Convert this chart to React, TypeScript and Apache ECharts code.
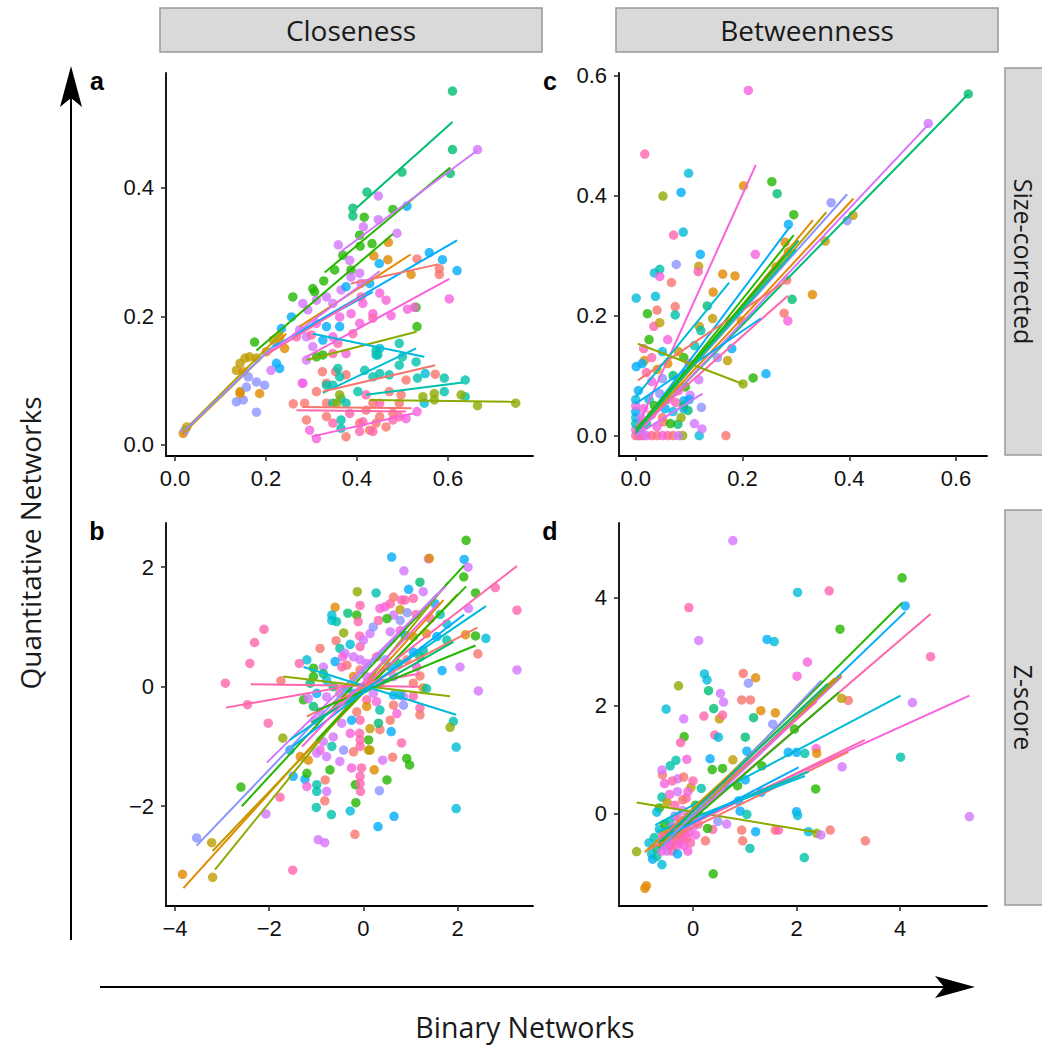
import React, { useEffect, useRef } from "react";
import * as echarts from "echarts";

// Group colours (one hue per network)
const PALETTE = [
  "#F8766D", "#E18A00", "#BE9C00", "#8CAB00", "#24B700", "#00BE70", "#00C1AB",
  "#00BBDA", "#00ACFC", "#8B93FF", "#D575FE", "#F962DD", "#FF65AC",
];

// Tick values
const TICKS_SIZE_CLOSE_X = [0, 0.2, 0.4, 0.6];
const TICKS_SIZE_CLOSE_Y = [0, 0.2, 0.4];
const TICKS_SIZE_BETW_X = [0, 0.2, 0.4, 0.6];
const TICKS_SIZE_BETW_Y = [0, 0.2, 0.4, 0.6];
const TICKS_Z_CLOSE_X = [-4, -2, 0, 2];
const TICKS_Z_CLOSE_Y = [-2, 0, 2];
const TICKS_Z_BETW_X = [0, 2, 4];
const TICKS_Z_BETW_Y = [0, 2, 4];

// Panel a: closeness, size-corrected  [binary, quantitative, group]
const CLOSE_SIZE_POINTS = [
  [0.61, 0.55, 5], [0.61, 0.459, 5], [0.605, 0.422, 5], [0.499, 0.424, 5], [0.422, 0.393, 5],
  [0.391, 0.368, 5], [0.391, 0.356, 5], [0.447, 0.387, 10], [0.665, 0.459, 10], [0.51, 0.371, 8],
  [0.479, 0.366, 4], [0.416, 0.354, 4], [0.447, 0.35, 10], [0.414, 0.339, 10], [0.488, 0.329, 10],
  [0.406, 0.326, 4], [0.433, 0.313, 4], [0.407, 0.309, 4], [0.359, 0.311, 10], [0.469, 0.315, 1],
  [0.559, 0.299, 8], [0.588, 0.288, 8], [0.62, 0.271, 8], [0.468, 0.288, 1], [0.532, 0.289, 0],
  [0.581, 0.274, 0], [0.581, 0.265, 0], [0.519, 0.265, 1], [0.437, 0.294, 1], [0.449, 0.282, 8],
  [0.603, 0.227, 11], [0.53, 0.214, 4], [0.532, 0.184, 4],
  [0.259, 0.23, 4], [0.303, 0.243, 4], [0.307, 0.238, 4], [0.327, 0.255, 4], [0.175, 0.16, 4],
  [0.369, 0.295, 4], [0.387, 0.272, 4], [0.351, 0.272, 4],
  [0.281, 0.22, 10], [0.292, 0.21, 10], [0.311, 0.225, 10], [0.333, 0.23, 10], [0.347, 0.22, 10],
  [0.365, 0.241, 10], [0.384, 0.287, 10], [0.387, 0.261, 10], [0.406, 0.267, 10], [0.409, 0.251, 10],
  [0.274, 0.179, 10], [0.289, 0.168, 10], [0.303, 0.153, 10], [0.311, 0.189, 11], [0.362, 0.199, 11],
  [0.387, 0.204, 11], [0.413, 0.22, 11], [0.435, 0.204, 11], [0.45, 0.236, 11], [0.464, 0.225, 11],
  [0.475, 0.201, 11], [0.511, 0.211, 11], [0.526, 0.214, 11], [0.406, 0.189, 11], [0.347, 0.168, 11],
  [0.376, 0.142, 11], [0.281, 0.096, 10], [0.289, 0.132, 10], [0.211, 0.116, 10], [0.358, 0.158, 12],
  [0.391, 0.173, 12], [0.267, 0.168, 12], [0.3, 0.171, 12], [0.347, 0.142, 12], [0.409, 0.23, 12],
  [0.435, 0.197, 12],
  [0.234, 0.181, 8], [0.256, 0.199, 8], [0.333, 0.184, 8], [0.362, 0.184, 8], [0.325, 0.163, 8],
  [0.23, 0.119, 8], [0.223, 0.127, 8], [0.376, 0.246, 8], [0.428, 0.251, 8],
  [0.45, 0.15, 7], [0.442, 0.14, 7],
  [0.154, 0.135, 2], [0.164, 0.137, 2], [0.143, 0.127, 2], [0.135, 0.116, 2], [0.179, 0.135, 2],
  [0.216, 0.163, 2], [0.23, 0.168, 2], [0.241, 0.15, 1], [0.186, 0.08, 1], [0.143, 0.083, 2],
  [0.15, 0.114, 1], [0.201, 0.145, 1], [0.018, 0.018, 1], [0.022, 0.023, 9], [0.026, 0.028, 2],
  [0.135, 0.067, 9], [0.15, 0.07, 9], [0.179, 0.051, 9], [0.157, 0.09, 9], [0.179, 0.098, 9],
  [0.197, 0.093, 9], [0.161, 0.106, 9],
  [0.324, 0.114, 0], [0.353, 0.114, 0], [0.376, 0.109, 0], [0.333, 0.096, 0], [0.311, 0.083, 0],
  [0.333, 0.065, 0], [0.333, 0.044, 0], [0.26, 0.064, 0], [0.285, 0.065, 0], [0.289, 0.039, 0],
  [0.376, 0.013, 0], [0.42, 0.054, 0], [0.435, 0.065, 0], [0.45, 0.044, 0], [0.464, 0.028, 0],
  [0.479, 0.049, 0], [0.493, 0.065, 0], [0.497, 0.078, 0], [0.508, 0.101, 0], [0.572, 0.11, 0],
  [0.406, 0.034, 0], [0.428, 0.023, 0], [0.471, 0.083, 0], [0.442, 0.034, 0],
  [0.347, 0.034, 12], [0.384, 0.049, 12], [0.413, 0.036, 12], [0.435, 0.021, 12], [0.406, 0.021, 12],
  [0.479, 0.039, 12], [0.45, 0.065, 12], [0.42, 0.078, 12], [0.493, 0.044, 12],
  [0.28, 0.096, 11], [0.296, 0.023, 11], [0.311, 0.01, 11], [0.532, 0.052, 11], [0.508, 0.041, 11],
  [0.333, 0.093, 6], [0.347, 0.093, 6], [0.358, 0.119, 6], [0.362, 0.106, 6], [0.365, 0.072, 6],
  [0.376, 0.065, 6], [0.365, 0.039, 6], [0.365, 0.026, 6], [0.402, 0.083, 6], [0.417, 0.116, 6],
  [0.435, 0.106, 6], [0.45, 0.111, 6], [0.471, 0.109, 6], [0.493, 0.124, 6], [0.5, 0.137, 6],
  [0.53, 0.129, 6], [0.533, 0.104, 6], [0.55, 0.111, 7], [0.592, 0.104, 6], [0.592, 0.083, 6],
  [0.638, 0.101, 6], [0.638, 0.075, 6], [0.548, 0.065, 7], [0.442, 0.147, 6], [0.446, 0.14, 6],
  [0.493, 0.158, 6], [0.347, 0.065, 6],
  [0.545, 0.075, 3], [0.57, 0.08, 3], [0.57, 0.07, 3], [0.629, 0.078, 3], [0.665, 0.061, 3],
  [0.749, 0.065, 3], [0.362, 0.078, 3], [0.355, 0.065, 3],
  [0.311, 0.137, 4], [0.325, 0.14, 4], [0.143, 0.08, 1],
];

// Fitted lines, panel a  [x1, y1, x2, y2, group]
const CLOSE_SIZE_FITS = [
  [0.4, 0.369, 0.61, 0.502, 5],
  [0.329, 0.268, 0.605, 0.431, 4],
  [0.362, 0.299, 0.665, 0.458, 10],
  [0.179, 0.147, 0.479, 0.328, 4],
  [0.281, 0.179, 0.62, 0.318, 8],
  [0.274, 0.184, 0.518, 0.296, 1],
  [0.387, 0.251, 0.58, 0.281, 0],
  [0.289, 0.137, 0.603, 0.258, 11],
  [0.289, 0.132, 0.531, 0.176, 3],
  [0.303, 0.173, 0.548, 0.137, 7],
  [0.325, 0.081, 0.53, 0.15, 7],
  [0.325, 0.083, 0.572, 0.124, 0],
  [0.42, 0.078, 0.632, 0.097, 6],
  [0.428, 0.07, 0.749, 0.067, 3],
  [0.267, 0.054, 0.508, 0.052, 12],
  [0.28, 0.059, 0.52, 0.057, 0],
  [0.3, 0.013, 0.523, 0.049, 11],
  [0.018, 0.021, 0.238, 0.176, 2],
  [0.015, 0.016, 0.245, 0.173, 1],
  [0.022, 0.023, 0.223, 0.158, 9],
  [0.216, 0.153, 0.435, 0.238, 8],
  [0.21, 0.145, 0.45, 0.27, 10],
  [0.2, 0.14, 0.42, 0.235, 12],
];

// Panel c: betweenness, size-corrected
const BETW_SIZE_POINTS = [
  [0.623, 0.569, 5], [0.548, 0.52, 10], [0.211, 0.575, 11], [0.017, 0.469, 12], [0.099, 0.437, 7],
  [0.085, 0.405, 8], [0.051, 0.399, 3], [0.202, 0.416, 1], [0.255, 0.423, 4], [0.265, 0.403, 5],
  [0.366, 0.388, 9], [0.407, 0.367, 2], [0.396, 0.358, 9], [0.296, 0.368, 4], [0.286, 0.352, 8],
  [0.071, 0.334, 12], [0.089, 0.339, 7], [0.28, 0.322, 1], [0.286, 0.306, 2], [0.224, 0.302, 11],
  [0.355, 0.324, 2], [0.076, 0.285, 9], [0.121, 0.302, 8], [0.118, 0.282, 2], [0.117, 0.273, 12],
  [0.035, 0.271, 7], [0.045, 0.277, 6], [0.045, 0.265, 11], [0.067, 0.255, 0], [0.163, 0.269, 1],
  [0.186, 0.266, 1], [0.263, 0.281, 2], [0.145, 0.239, 1], [0.283, 0.259, 0], [0.293, 0.227, 5],
  [0.331, 0.235, 1], [0.278, 0.204, 0], [0.285, 0.191, 11], [0.001, 0.229, 7], [0.037, 0.232, 7],
  [0.04, 0.209, 0], [0.074, 0.215, 0], [0.022, 0.203, 4], [0.134, 0.216, 5], [0.074, 0.201, 6],
  [0.144, 0.195, 2], [0.198, 0.191, 1], [0.119, 0.182, 2], [0.122, 0.175, 6], [0.034, 0.182, 12],
  [0.045, 0.188, 2], [0.18, 0.145, 8], [0.153, 0.13, 9], [0.172, 0.125, 2], [0.201, 0.086, 3],
  [0.22, 0.096, 4], [0.244, 0.103, 8], [0.016, 0.125, 1], [0.001, 0.115, 8], [0.169, 0.0, 0],
  [0.119, 0.0, 7], [0.088, 0.0, 3], [0.124, 0.011, 10], [0.123, 0.047, 9], [0.098, 0.042, 5],
  [0.09, 0.045, 8], [0.09, 0.058, 8], [0.102, 0.067, 10], [0.093, 0.081, 4], [0.118, 0.093, 10],
  [0.079, 0.019, 5], [0.052, 0.023, 0],
  [0.0, 0.0, 12], [0.005, 0.0, 0], [0.01, 0.0, 11], [0.015, 0.0, 12], [0.02, 0.0, 10],
  [0.03, 0.0, 12], [0.04, 0.0, 0], [0.05, 0.0, 11], [0.06, 0.0, 12], [0.07, 0.0, 0],
  [0.08, 0.0, 10], [0.0, 0.01, 11], [0.0, 0.02, 6], [0.0, 0.03, 7], [0.0, 0.04, 8],
  [0.0, 0.05, 11], [0.0, 0.06, 7], [0.005, 0.075, 8], [0.01, 0.015, 12], [0.01, 0.03, 10],
  [0.015, 0.045, 11], [0.02, 0.02, 5], [0.025, 0.06, 7], [0.03, 0.035, 12], [0.035, 0.05, 4],
  [0.04, 0.015, 11], [0.045, 0.07, 9], [0.05, 0.03, 0], [0.055, 0.045, 8], [0.06, 0.06, 10],
  [0.065, 0.02, 4], [0.07, 0.04, 7], [0.075, 0.055, 12], [0.08, 0.075, 11], [0.085, 0.03, 3],
  [0.09, 0.05, 5], [0.1, 0.06, 8], [0.11, 0.02, 10], [0.03, 0.09, 11], [0.02, 0.105, 12],
  [0.012, 0.12, 8], [0.04, 0.11, 2], [0.05, 0.095, 9], [0.06, 0.12, 1], [0.07, 0.1, 5],
  [0.09, 0.13, 4], [0.1, 0.12, 12], [0.03, 0.13, 12], [0.05, 0.14, 7], [0.08, 0.14, 2],
  [0.11, 0.15, 6], [0.015, 0.145, 12], [0.06, 0.16, 11], [0.025, 0.16, 4],
];

const BETW_SIZE_FITS = [
  [0.0, 0.008, 0.225, 0.451, 11],
  [0.0, 0.003, 0.623, 0.569, 5],
  [0.0, 0.0, 0.548, 0.518, 10],
  [0.0, 0.008, 0.396, 0.402, 9],
  [0.0, 0.005, 0.408, 0.395, 1],
  [0.0, 0.005, 0.357, 0.372, 2],
  [0.0, 0.005, 0.332, 0.359, 1],
  [0.0, 0.005, 0.289, 0.348, 8],
  [0.0, 0.005, 0.296, 0.334, 4],
  [0.004, 0.092, 0.284, 0.259, 0],
  [0.0, 0.008, 0.285, 0.233, 12],
  [0.0, 0.064, 0.175, 0.255, 7],
  [0.0, 0.053, 0.234, 0.195, 8],
  [0.004, 0.153, 0.201, 0.086, 3],
  [0.0, 0.0, 0.125, 0.07, 10],
  [0.0, 0.005, 0.305, 0.325, 5],
  [0.0, 0.01, 0.3, 0.31, 6],
  [0.0, 0.01, 0.28, 0.3, 4],
];

// Panel b: closeness, z-score
const CLOSE_Z_POINTS = [
  [2.18, 2.45, 4], [0.6, 2.17, 8], [1.38, 2.14, 10], [1.4, 2.15, 1], [2.14, 2.13, 8],
  [2.22, 2.0, 10], [0.86, 1.94, 10], [2.13, 1.84, 4], [1.2, 1.75, 5], [0.96, 1.63, 8],
  [-0.13, 1.59, 3], [0.27, 1.57, 6], [1.27, 1.59, 10], [2.38, 1.57, 4], [2.8, 1.66, 12],
  [3.26, 1.28, 12], [2.23, 1.31, 10], [2.6, 0.81, 7], [2.38, 0.85, 4], [2.17, 0.87, 1],
  [2.43, 0.55, 0], [3.26, 0.28, 10], [2.05, 0.33, 10], [1.67, 0.27, 8], [2.44, -0.07, 10],
  [1.91, -0.58, 6], [1.84, -0.68, 3], [1.97, -1.01, 7], [1.97, -2.04, 7], [0.65, -2.17, 8],
  [0.31, -2.34, 8], [-0.18, -2.47, 0], [-0.68, -2.14, 6], [0.34, -1.74, 9], [-0.16, -1.94, 4],
  [-0.28, -2.08, 7], [-1.0, -2.02, 6], [-0.82, -1.91, 0], [-0.96, -2.56, 10], [-0.82, -2.61, 10],
  [-1.5, -3.07, 12], [-3.2, -3.19, 2], [-3.84, -3.14, 1], [-3.22, -2.61, 2], [-3.54, -2.53, 9],
  [-2.07, -2.13, 10], [-1.77, -1.85, 12], [-2.6, -1.68, 4], [-1.71, -0.86, 3], [-2.02, -0.61, 12],
  [-2.46, -0.3, 12], [-2.93, 0.06, 12], [-2.41, 0.39, 12], [-2.31, 0.74, 12], [-2.11, 0.96, 12],
  [-1.75, 0.1, 0], [-1.56, -1.06, 8], [-1.49, -1.5, 8], [-1.24, -1.55, 8], [0.92, -1.2, 4],
  [0.98, -1.31, 4], [0.5, -1.56, 4], [0.81, -0.94, 12], [0.41, -1.23, 10], [0.62, -1.18, 0],
  [0.59, -0.75, 8], [0.23, -1.39, 1], [-0.06, -1.75, 12], [-0.17, -1.64, 4],
  [-0.6, 1.33, 1], [-0.67, 1.2, 7], [-0.67, 1.11, 7], [-0.57, 1.09, 6], [-0.33, 1.23, 5],
  [-0.14, 1.2, 4], [-0.11, 1.09, 12], [-0.07, 1.36, 12], [-0.42, 0.9, 3], [-0.58, 0.77, 0],
  [-0.28, 0.71, 7], [-0.08, 0.85, 12], [-0.92, 0.64, 0], [-0.5, 0.64, 6], [-0.39, 0.56, 10],
  [-0.44, 0.5, 11], [-1.2, 0.45, 7], [-1.36, 0.39, 12], [-1.06, 0.31, 4], [-0.85, 0.33, 10],
  [-0.6, 0.42, 8], [-0.35, 0.36, 0], [-0.07, 0.67, 12], [0.0, 0.78, 10], [0.14, 0.89, 10],
  [0.21, 1.0, 9], [0.32, 1.11, 12], [0.35, 1.31, 11], [0.46, 1.34, 11], [0.57, 1.39, 12],
  [0.64, 1.5, 0], [0.81, 1.45, 12], [0.88, 1.45, 12], [1.06, 1.48, 12], [0.78, 1.29, 2],
  [0.93, 1.24, 9], [1.12, 1.21, 12], [0.64, 1.2, 10], [0.5, 1.14, 4], [0.78, 1.11, 9],
  [0.57, 0.92, 10], [0.78, 0.94, 11], [0.88, 0.86, 8], [1.06, 0.84, 2], [1.34, 0.89, 1],
  [1.42, 1.14, 12], [1.52, 1.39, 8], [1.63, 1.21, 6], [1.77, 1.05, 7], [1.56, 0.84, 8],
  [1.77, 0.78, 6], [1.27, 0.61, 6], [1.2, 0.5, 5], [1.06, 0.58, 8], [0.92, 0.45, 0],
  [0.74, 0.39, 5], [1.13, 0.33, 11], [1.2, 0.18, 0], [1.06, 0.06, 0], [1.27, -0.02, 1],
  [1.34, -0.03, 6], [1.06, -0.16, 12], [0.85, -0.16, 10], [0.64, -0.14, 8], [0.78, -0.14, 7],
  [0.85, -0.31, 9], [0.64, -0.31, 0], [0.71, -0.45, 11], [0.57, -0.56, 0], [1.2, -0.36, 12],
  [1.2, -0.47, 0], [0.35, -0.72, 0], [0.32, -0.61, 5], [0.14, -0.7, 2], [0.11, -0.89, 4],
  [0.14, -1.06, 2], [-0.07, -0.89, 12], [-0.08, -0.78, 12], [-0.28, -0.78, 11], [-0.46, -0.61, 10],
  [-0.64, -0.84, 10], [-0.85, -0.92, 10], [-0.92, -1.06, 11], [-0.78, -1.17, 10], [-0.99, -1.11, 10],
  [-0.67, -1.0, 6], [-0.42, -1.06, 9], [-0.21, -1.09, 0], [-0.07, -1.0, 12], [0.11, -1.06, 2],
  [-0.5, -1.25, 10], [-0.25, -1.36, 11], [-0.04, -1.36, 12], [-0.07, -1.5, 12], [-0.07, -1.62, 12],
  [-0.71, -1.39, 4], [-0.81, -1.56, 0], [-0.99, -1.64, 6], [-1.2, -1.67, 11], [-0.99, -1.75, 6],
  [-0.78, -1.75, 10], [-1.2, -1.45, 4], [-1.34, -1.17, 1], [-1.17, -1.23, 1], [-1.03, -0.56, 10],
  [-0.92, -0.42, 10], [-1.06, -0.33, 5], [-1.27, -0.22, 4], [-1.17, -0.2, 10], [-0.99, -0.11, 8],
  [-0.78, -0.17, 10], [-0.64, 0.0, 5], [-0.5, -0.11, 12], [-0.35, -0.03, 6], [-0.21, -0.11, 8],
  [0.07, -0.22, 12], [0.21, -0.11, 10], [0.28, -0.25, 11], [0.35, -0.39, 6], [0.07, -0.33, 1],
  [-0.14, -0.42, 0], [-0.07, -0.56, 12], [-0.25, -0.56, 8], [0.07, 0.17, 10], [0.21, 0.17, 12],
  [0.35, 0.06, 11], [-0.07, 0.28, 0], [-0.21, 0.17, 1], [0.07, 0.39, 10], [0.28, 0.5, 12],
  [0.46, 0.45, 9], [0.57, 0.33, 8], [0.64, 0.17, 10], [-0.78, 0.11, 7], [-1.13, 0.06, 5],
  [-1.06, 0.17, 4], [-0.85, 0.22, 5], [-0.46, 0.33, 12], [-0.21, 0.5, 10], [-0.07, 0.45, 10],
];

const CLOSE_Z_FITS = [
  [-3.82, -3.37, 1.7, 1.45, 1],
  [-3.2, -2.75, 2.0, 1.55, 2],
  [-3.15, -3.06, 1.8, 1.75, 3],
  [-3.54, -2.66, 1.56, 1.55, 9],
  [-2.58, -2.0, 2.14, 2.03, 4],
  [-1.0, -0.9, 2.18, 1.68, 4],
  [-2.05, -1.27, 1.75, 1.68, 10],
  [-1.2, -0.7, 3.26, 2.02, 12],
  [-2.92, -0.35, 1.2, 0.22, 12],
  [-2.39, 0.04, 1.2, 0.0, 12],
  [-1.7, 0.17, 1.84, -0.16, 3],
  [-1.27, 0.33, 1.97, -0.47, 7],
  [-1.56, -0.89, 2.6, 1.35, 7],
  [-1.2, -0.5, 2.42, 0.99, 0],
  [-1.0, -0.4, 2.38, 0.69, 4],
  [-1.1, -0.6, 1.91, 0.75, 5],
  [-1.5, -1.0, 2.14, 1.21, 8],
  [-1.3, -1.0, 1.6, 1.4, 11],
];

// Panel d: betweenness, z-score
const BETW_Z_POINTS = [
  [0.77, 5.05, 10], [4.04, 4.36, 4], [2.02, 4.09, 7], [2.63, 4.12, 12], [4.1, 3.84, 8],
  [-0.08, 3.81, 12], [2.84, 3.41, 4], [0.11, 3.2, 10], [1.43, 3.22, 8], [1.57, 3.18, 7],
  [4.59, 2.9, 12], [2.21, 2.8, 11], [0.97, 2.59, 0], [1.21, 2.51, 1], [1.07, 2.41, 9],
  [2.01, 2.54, 11], [0.22, 2.58, 7], [0.27, 2.47, 7], [-0.28, 2.36, 3], [0.3, 2.27, 5],
  [0.53, 2.22, 10], [0.59, 2.06, 10], [4.24, 2.05, 10], [3.0, 2.09, 0], [2.87, 2.13, 2],
  [0.94, 2.1, 0], [1.11, 2.1, 0], [-0.52, 1.93, 7], [-0.18, 1.75, 10], [0.21, 1.8, 12],
  [1.31, 1.9, 1], [1.59, 1.86, 1], [0.4, 1.94, 5], [0.51, 1.75, 2], [1.17, 1.77, 5],
  [1.54, 1.65, 9], [0.57, 1.82, 12], [1.96, 1.56, 4], [0.42, 1.45, 12], [-0.12, 1.0, 11],
  [-0.17, 1.42, 4], [1.01, 1.41, 5], [-0.24, 1.31, 12], [0.49, 1.41, 7], [1.04, 1.15, 8],
  [1.84, 1.13, 8], [2.0, 1.13, 8], [2.16, 1.11, 6], [2.88, 0.86, 10], [4.01, 1.04, 6],
  [2.38, 1.2, 11], [2.39, 1.11, 1], [0.33, 1.01, 8], [0.37, 0.81, 4], [0.57, 0.83, 4],
  [0.77, 0.99, 2], [1.33, 0.88, 4], [-0.44, 0.88, 6], [-0.33, 0.98, 6], [-0.59, 0.71, 0],
  [-0.29, 0.64, 10], [-0.18, 0.67, 0], [-0.04, 0.48, 2], [0.16, 0.46, 6], [-0.13, 0.28, 12],
  [2.37, 0.45, 4], [1.01, 0.62, 8], [0.86, 0.51, 4], [1.32, 0.39, 8], [0.88, 0.23, 8],
  [0.91, 0.04, 8], [1.04, -0.02, 6], [0.48, -0.15, 9], [0.65, -0.2, 10], [0.94, -0.31, 0],
  [0.96, -0.51, 0], [1.21, -0.34, 8], [1.1, -0.65, 6], [1.59, -0.31, 0], [1.65, -0.31, 12],
  [2.0, 0.03, 8], [2.02, -0.04, 7], [2.23, -0.34, 7], [2.39, -0.37, 3], [2.47, -0.4, 10],
  [2.65, -0.31, 0], [3.33, -0.51, 0], [5.34, -0.06, 10], [2.15, -0.82, 6], [0.39, -1.12, 4],
  [-0.93, -1.39, 1], [-0.9, -1.34, 1], [-1.09, -0.71, 3], [0.24, -0.51, 0], [0.38, -0.3, 12],
  [0.28, -0.28, 4],
  [-0.85, -0.55, 7], [-0.8, -0.75, 7], [-0.78, -0.85, 8], [-0.75, -0.45, 6], [-0.7, -0.65, 5],
  [-0.7, -0.8, 6], [-0.65, -0.3, 7], [-0.62, -0.55, 12], [-0.6, -0.7, 11], [-0.58, -0.4, 0],
  [-0.55, -0.6, 12], [-0.55, -0.2, 4], [-0.5, -0.5, 12], [-0.5, -0.7, 10], [-0.48, -0.35, 2],
  [-0.45, -0.6, 11], [-0.45, -0.15, 6], [-0.42, -0.45, 12], [-0.4, -0.7, 12], [-0.4, -0.25, 10],
  [-0.38, -0.55, 11], [-0.35, -0.4, 12], [-0.35, -0.05, 9], [-0.32, -0.6, 12], [-0.3, -0.3, 11],
  [-0.3, -0.48, 0], [-0.28, -0.1, 12], [-0.25, -0.55, 11], [-0.25, -0.35, 12], [-0.22, -0.2, 1],
  [-0.2, -0.45, 12], [-0.2, 0.05, 10], [-0.18, -0.6, 11], [-0.15, -0.3, 0], [-0.12, -0.45, 12],
  [-0.1, -0.15, 9], [-0.08, -0.35, 11], [-0.05, -0.55, 12], [0.0, -0.25, 10], [0.02, -0.05, 0],
  [0.05, -0.4, 11], [0.1, -0.2, 12], [-0.65, 0.1, 4], [-0.7, 0.02, 7], [-0.6, 0.3, 6],
  [-0.5, 0.2, 2], [-0.45, 0.35, 11], [-0.35, 0.15, 12], [-0.3, 0.4, 10], [-0.4, 0.6, 12],
  [-0.55, 0.55, 11], [-0.2, 0.25, 0], [0.05, 0.15, 4], [-0.1, 0.4, 11], [0.0, 0.6, 12],
  [-0.6, 0.8, 10], [-0.3, -0.75, 8], [-0.6, -0.95, 7], [-0.1, -0.7, 11],
];

const BETW_Z_FITS = [
  [-0.66, -0.59, 4.04, 3.9, 4],
  [-0.66, -0.65, 4.1, 3.73, 8],
  [-0.66, -0.62, 4.59, 3.69, 12],
  [-0.73, -0.22, 4.01, 2.18, 7],
  [-0.66, -0.43, 5.34, 2.18, 11],
  [-1.09, 0.2, 2.39, -0.35, 3],
  [-0.89, -0.68, 3.0, 1.14, 0],
  [-0.66, -0.5, 3.32, 1.36, 12],
  [-0.66, -0.34, 2.23, 0.77, 6],
  [-0.7, -0.34, 2.16, 0.69, 7],
  [-0.66, -0.68, 2.87, 2.53, 10],
  [-0.66, -0.62, 2.87, 2.56, 2],
  [-0.93, -0.72, 2.74, 2.5, 1],
  [-0.66, -0.65, 2.82, 2.24, 4],
  [-0.66, -0.5, 2.04, 0.85, 8],
  [-0.66, -0.68, 2.48, 2.46, 9],
  [-0.66, -0.5, 2.39, 2.07, 12],
  [-0.66, -0.55, 2.6, 2.4, 5],
];

// Panel layout: grid box in px, axis extents in data units
const PANELS = [
  { grid: { left: 166, top: 73, width: 367, height: 383 }, x: [-0.0198, 0.787], y: [-0.0171, 0.578],
    xt: TICKS_SIZE_CLOSE_X, yt: TICKS_SIZE_CLOSE_Y, dec: true, pts: CLOSE_SIZE_POINTS, fits: CLOSE_SIZE_FITS },
  { grid: { left: 619, top: 73, width: 368, height: 383 }, x: [-0.0313, 0.658], y: [-0.034, 0.604],
    xt: TICKS_SIZE_BETW_X, yt: TICKS_SIZE_BETW_Y, dec: true, pts: BETW_SIZE_POINTS, fits: BETW_SIZE_FITS },
  { grid: { left: 166, top: 523, width: 367, height: 383 }, x: [-4.19, 3.6], y: [-3.67, 2.74],
    xt: TICKS_Z_CLOSE_X, yt: TICKS_Z_CLOSE_Y, dec: false, pts: CLOSE_Z_POINTS, fits: CLOSE_Z_FITS },
  { grid: { left: 619, top: 523, width: 368, height: 383 }, x: [-1.43, 5.68], y: [-1.717, 5.376],
    xt: TICKS_Z_BETW_X, yt: TICKS_Z_BETW_Y, dec: false, pts: BETW_Z_POINTS, fits: BETW_Z_FITS },
];

const TICK_FONT = "'Liberation Sans', Arial, Helvetica, sans-serif";
const TITLE_FONT = "'Open Sans', 'Noto Sans', sans-serif";

function fmt(dec: boolean) {
  return (v: number) => {
    if (dec) return v.toFixed(1);
    return v < 0 ? "\u2212" + Math.abs(v) : String(v);
  };
}

function axis(type: "x" | "y", idx: number, range: number[], ticks: number[], dec: boolean) {
  return {
    type: "value",
    gridIndex: idx,
    min: range[0],
    max: range[1],
    splitLine: { show: false },
    axisLine: { show: true, onZero: false, lineStyle: { color: "#000", width: 1.8 } },
    axisTick: { show: true, length: 5, customValues: ticks, lineStyle: { color: "#333", width: 1.6 } },
    axisLabel: {
      show: true,
      customValues: ticks,
      formatter: fmt(dec),
      fontFamily: TICK_FONT,
      fontSize: 22,
      color: "#111",
      margin: type === "x" ? 11 : 12,
    },
  };
}

function strip(x: number, y: number, w: number, h: number, label: string, vertical: boolean) {
  return [
    {
      type: "rect",
      shape: { x, y, width: w, height: h },
      style: { fill: "#d9d9d9", stroke: "#999999", lineWidth: 1.5 },
      z: 10,
    },
    {
      type: "text",
      x: vertical ? x + 19 : x + w / 2,
      y: y + h / 2,
      rotation: vertical ? -Math.PI / 2 : 0,
      style: {
        text: label,
        fontFamily: TITLE_FONT,
        fontSize: vertical ? 25 : 28,
        fill: "#1a1a1a",
        align: "center",
        verticalAlign: "middle",
      },
      z: 11,
    },
  ];
}

export default function App() {
  const ref = useRef<HTMLDivElement>(null);

  useEffect(() => {
    if (!ref.current) return;
    const chart = echarts.init(ref.current, undefined, { renderer: "svg" });

    const grids = PANELS.map((p) => ({ ...p.grid, containLabel: false }));
    const xAxes = PANELS.map((p, i) => axis("x", i, p.x, p.xt, p.dec));
    const yAxes = PANELS.map((p, i) => axis("y", i, p.y, p.yt, p.dec));

    const series: any[] = [];
    PANELS.forEach((p, i) => {
      series.push({
        type: "scatter",
        xAxisIndex: i,
        yAxisIndex: i,
        symbolSize: 9.5,
        silent: true,
        z: 2,
        data: p.pts.map((d) => ({ value: [d[0], d[1]], itemStyle: { color: PALETTE[d[2]] } })),
      });
    });
    PANELS.forEach((p, i) => {
      p.fits.forEach((f) => {
        series.push({
          type: "line",
          xAxisIndex: i,
          yAxisIndex: i,
          symbol: "none",
          silent: true,
          z: 3,
          lineStyle: { color: PALETTE[f[4]], width: 2 },
          data: [[f[0], f[1]], [f[2], f[3]]],
        });
      });
    });

    const letter = (t: string, x: number, y: number) => ({
      type: "text",
      x,
      y,
      style: {
        text: t,
        fontFamily: TICK_FONT,
        fontWeight: "bold",
        fontSize: 25,
        fill: "#000",
        align: "center",
        verticalAlign: "middle",
      },
    });

    const graphic: any[] = [
      ...strip(160, 8, 382, 44, "Closeness", false),
      ...strip(616, 8, 382, 44, "Betweenness", false),
      ...strip(1005, 68, 50, 387, "Size-corrected", true),
      ...strip(1005, 510, 50, 395, "Z-score", true),
      letter("a", 97, 81),
      letter("b", 97, 531),
      letter("c", 550, 81),
      letter("d", 550, 531),
      // vertical arrow
      { type: "line", shape: { x1: 71, y1: 940, x2: 71, y2: 96 }, style: { stroke: "#000", lineWidth: 2 } },
      {
        type: "polygon",
        shape: { points: [[71, 66], [82, 107], [71, 98], [60, 107]] },
        style: { fill: "#000" },
      },
      // horizontal arrow
      { type: "line", shape: { x1: 100, y1: 987, x2: 946, y2: 987 }, style: { stroke: "#000", lineWidth: 2 } },
      {
        type: "polygon",
        shape: { points: [[975, 987], [935, 976], [944, 987], [935, 998]] },
        style: { fill: "#000" },
      },
      {
        type: "text",
        x: 30,
        y: 543,
        rotation: Math.PI / 2,
        style: {
          text: "Quantitative Networks",
          fontFamily: TITLE_FONT,
          fontSize: 28,
          fill: "#1a1a1a",
          align: "center",
          verticalAlign: "middle",
        },
      },
      {
        type: "text",
        x: 525,
        y: 1027,
        style: {
          text: "Binary Networks",
          fontFamily: TITLE_FONT,
          fontSize: 28.5,
          fill: "#1a1a1a",
          align: "center",
          verticalAlign: "middle",
        },
      },
    ];

    chart.setOption({
      animation: false,
      backgroundColor: "#ffffff",
      grid: grids,
      xAxis: xAxes,
      yAxis: yAxes,
      series,
      graphic,
    });

    return () => chart.dispose();
  }, []);

  return (
    <div
      ref={ref}
      style={{ position: "absolute", left: 0, top: 0, width: 1042, height: 1045, background: "#fff" }}
    />
  );
}
